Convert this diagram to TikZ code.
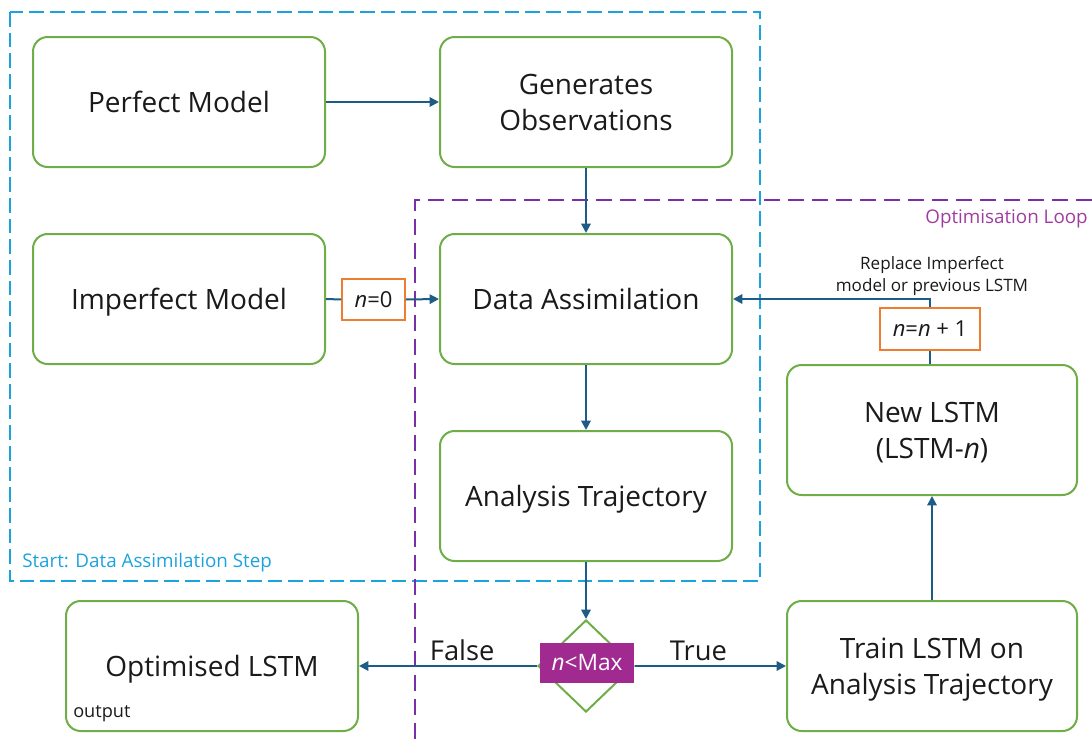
\documentclass[tikz,border=0pt]{standalone}
\usepackage{fontspec}
\setmainfont{Open Sans}
\usetikzlibrary{shapes.geometric,arrows.meta}
\definecolor{boxgreen}{HTML}{6FAD47}
\definecolor{arrblue}{HTML}{1D5C86}
\definecolor{dashblue}{HTML}{1CA3DE}
\definecolor{dashpurple}{HTML}{7B2FA6}
\definecolor{looptext}{HTML}{A03CA0}
\definecolor{magbox}{HTML}{A02A90}
\definecolor{nbox}{HTML}{ED7D31}
\definecolor{txt}{HTML}{1A1A1A}
\tikzset{
  stepbox/.style={draw=boxgreen,line width=1.5pt,rounded corners=11pt,fill=white,
    minimum width=219pt,minimum height=97.5pt,align=center,text=txt,text depth=0pt,
    font=\fontsize{21}{27}\selectfont,inner sep=2pt},
  nlabel/.style={draw=nbox,line width=1.4pt,fill=white,text=txt,
    font=\fontsize{16.5}{19}\selectfont,inner sep=0pt},
  conn/.style={draw=arrblue,line width=1.5pt},
  arr/.style={conn,-{Triangle[length=7pt,width=7pt]}},
  lbl/.style={text=txt,font=\fontsize{20.5}{24}\selectfont},
}
\begin{document}
\begin{tikzpicture}[x=0.75pt,y=-0.75pt]
\useasboundingbox (0,0) rectangle (1092,746);
% dashed regions
\draw[dashblue,line width=1.5pt,dash pattern=on 11pt off 4.5pt] (10,12) rectangle (760,581);
\draw[dashpurple,line width=1.5pt,dash pattern=on 12pt off 6pt] (1092,200) -- (415,200) -- (415,746);
\node[anchor=south west,text=dashblue,font=\fontsize{14.1}{17}\selectfont,inner sep=0pt] (startlbl) at (22,572) {Start: Data Assimilation Step};
\node[anchor=south east,text=looptext,font=\fontsize{14.1}{17}\selectfont,inner sep=0pt] (looplbl) at (1088,228) {Optimisation Loop};
% boxes
\node[stepbox] (perfect) at (179,102) {Perfect Model};
\node[stepbox] (gen) at (586,102) {Generates\\Observations};
\node[stepbox] (imperfect) at (179,299) {Imperfect Model};
\node[stepbox] (da) at (586,299) {Data Assimilation};
\node[stepbox] (at) at (586,496) {Analysis Trajectory};
\node[stepbox,minimum width=217.5pt] (newlstm) at (932,430) {New LSTM\\(LSTM-\textit{n})};
\node[stepbox,minimum width=217.5pt] (train) at (932,666) {Train LSTM on\\Analysis Trajectory};
\node[stepbox] (opt) at (212,666) {Optimised LSTM};
\node[anchor=south west,text=txt,font=\fontsize{13.6}{16}\selectfont,inner sep=0pt] (outlbl) at (73,722) {output};
% decision
\node[diamond,draw=boxgreen,line width=1.5pt,fill=white,minimum width=72pt,minimum height=69pt,inner sep=0pt] (dec) at (586,666) {};
\node[fill=magbox,text=white,minimum width=71pt,minimum height=30pt,inner sep=0pt,font=\fontsize{17}{20}\selectfont] (declbl) at (587,663) {\textit{n}<Max};
% counters
\node[nlabel,minimum width=47pt,minimum height=31pt] (n0) at (373.5,299.5) {\textit{n}=0};
\node[nlabel,minimum width=75pt,minimum height=31.5pt] (nn1) at (930,329) {\textit{n}=\textit{n} + 1};
% connectors
\draw[arr] (perfect) -- (gen);
\draw[arr] (gen) -- (da);
\draw[conn] (imperfect.east) -- (n0.west);
\draw[arr] (n0.east) -- (da.west);
\draw[arr] (da) -- (at);
\draw[arr] (at.south) -- (dec.north);
\draw[arr] (dec.west) -- node[lbl,pos=0.42,above=0pt] {False} (opt.east);
\draw[arr] (dec.east) -- node[lbl,pos=0.42,above=0pt] {True} (train.west);
\draw[arr] (train) -- (newlstm);
\draw[conn] (newlstm.north -| nn1) -- (nn1.south);
\draw[arr] (nn1.north) |- (da.east);
\node[align=center,text=txt,font=\fontsize{12.8}{16.5}\selectfont,inner sep=0pt] (replbl) at (932,276) {Replace Imperfect\\model or previous LSTM};
\end{tikzpicture}
\end{document}
